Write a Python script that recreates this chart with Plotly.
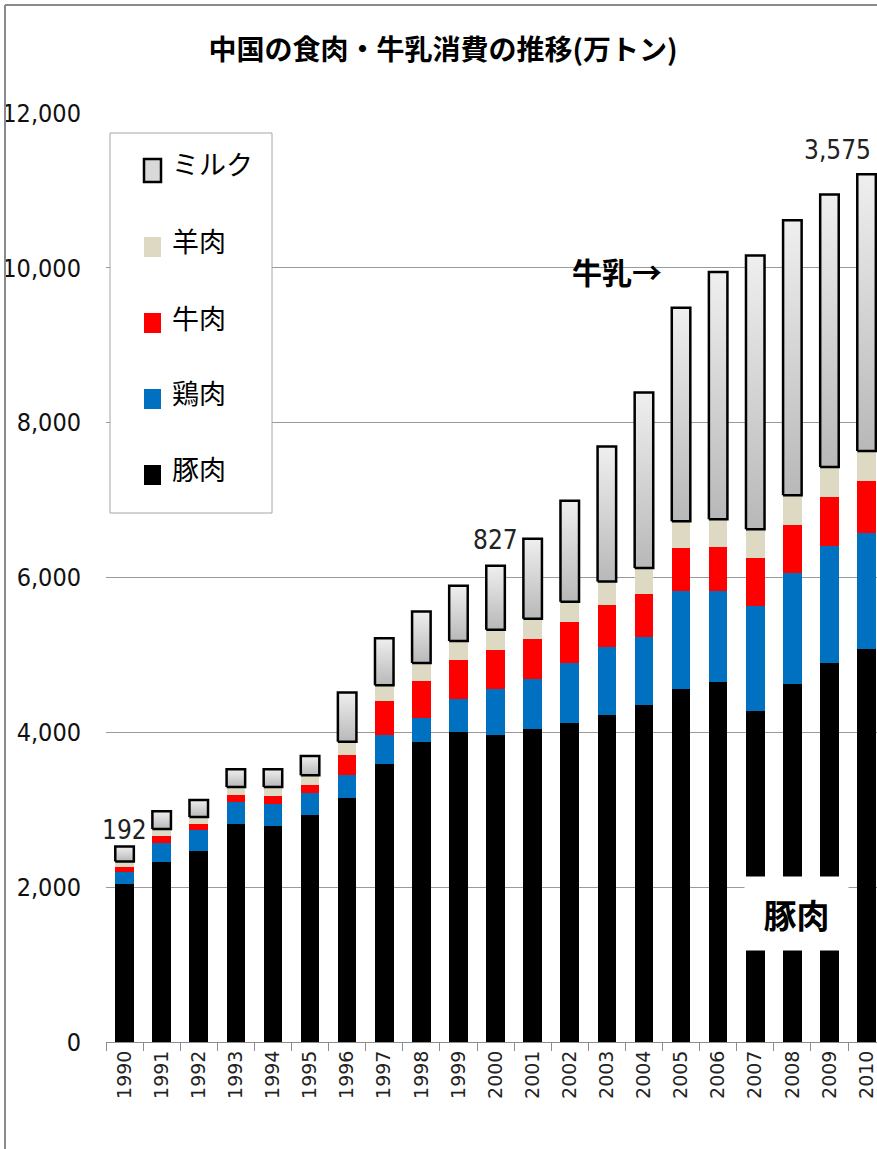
import plotly.graph_objects as go

# 中国の食肉・牛乳消費 (万トン), 1990-2010
years = ["1990", "1991", "1992", "1993", "1994", "1995", "1996", "1997", "1998", "1999",
         "2000", "2001", "2002", "2003", "2004", "2005", "2006", "2007", "2008", "2009", "2010"]
pork = [2040, 2325, 2467, 2816, 2786, 2928, 3152, 3596, 3881, 4006,
        3963, 4045, 4123, 4230, 4347, 4554, 4649, 4282, 4618, 4890, 5080]
chicken = [159, 241, 267, 289, 284, 289, 298, 367, 306, 431,
           591, 649, 776, 876, 888, 1267, 1172, 1350, 1445, 1518, 1501]
beef = [65, 90, 82, 90, 112, 108, 259, 448, 475, 496,
        504, 506, 528, 538, 557, 557, 574, 621, 616, 638, 660]
mutton = [69, 95, 91, 100, 113, 120, 168, 198, 232, 246,
          268, 266, 261, 303, 331, 349, 358, 371, 384, 380, 392]
milk = [192, 231, 218, 227, 227, 249, 637, 607, 668, 714,
        827, 1034, 1303, 1744, 2267, 2759, 3192, 3534, 3552, 3521, 3575]
labelled_years = ["1990", "2000", "2010"]
y_ticks = [0, 2000, 4000, 6000, 8000, 10000, 12000]

meat_series = [
    ("豚肉", pork, "#000000"),
    ("鶏肉", chicken, "#0070C0"),
    ("牛肉", beef, "#FF0000"),
    ("羊肉", mutton, "#DDD9C3"),
]

BAR_W = 0.5
idx = list(range(len(years)))
meat_total = [p + c + b + m for p, c, b, m in zip(pork, chicken, beef, mutton)]

fig = go.Figure()
for name, vals, color in meat_series:
    fig.add_trace(go.Bar(
        x=idx, y=vals, name=name, width=BAR_W,
        marker=dict(color=color, line=dict(width=0)),
        showlegend=False,
    ))

# milk segments: outlined boxes with a vertical grey gradient, stacked on the meat total
for i, (b, m) in enumerate(zip(meat_total, milk)):
    x0, x1 = i - BAR_W / 2, i + BAR_W / 2
    fig.add_trace(go.Scatter(
        x=[x0, x1, x1, x0, x0], y=[b, b, b + m, b + m, b],
        mode="lines", fill="toself",
        fillgradient=dict(type="vertical", colorscale=[[0, "#b8b8b8"], [1, "#efefef"]]),
        line=dict(color="#000000", width=2.5),
        name="ミルク", showlegend=False, hoverinfo="skip",
    ))

# value labels for selected milk segments
label_style = {"1990": dict(yshift=0, xshift=0, xanchor="center"),
               "2000": dict(yshift=9, xshift=0, xanchor="center"),
               "2010": dict(yshift=7, xshift=6, xanchor="right")}
NUM_FONT = "Liberation Sans Narrow, DejaVu Sans Condensed, Arial Narrow, sans-serif"
for yr in labelled_years:
    i = years.index(yr)
    st = label_style[yr]
    fig.add_annotation(
        x=i, y=meat_total[i] + milk[i], text=f"{milk[i]:,}",
        showarrow=False, yanchor="bottom", xanchor=st["xanchor"],
        xshift=st["xshift"], yshift=st["yshift"],
        font=dict(family=NUM_FONT, size=26, color="#222222"),
    )

JP = "Noto Sans CJK JP, sans-serif"

# callouts
fig.add_annotation(x=13.27, y=9960, text="<b>牛乳→</b>", showarrow=False,
                   font=dict(family=JP, size=30, color="#000000"))
fig.add_annotation(x=18.1, y=1656, text="<b>豚肉</b>", showarrow=False,
                   width=101, height=71, bgcolor="#ffffff",
                   font=dict(family=JP, size=33, color="#000000"))

# plot-area geometry in pixels, used to place the hand-built legend and frame
L, R, T, B = 106, 877, 113, 1042
def px(x):
    return (x - L) / (R - L)
def py(y):
    return (B - y) / (B - T)

shapes = []
# outer chart frame (left and top edges)
shapes.append(dict(type="line", xref="paper", yref="paper", x0=px(5), x1=px(5),
                   y0=py(5), y1=py(1149), line=dict(color="#8a8a8a", width=2)))
shapes.append(dict(type="line", xref="paper", yref="paper", x0=px(5), x1=px(877),
                   y0=py(5), y1=py(5), line=dict(color="#8a8a8a", width=2)))
# legend box
shapes.append(dict(type="rect", xref="paper", yref="paper", x0=px(110), x1=px(272),
                   y0=py(513), y1=py(133), fillcolor="#ffffff",
                   line=dict(color="#a6a6a6", width=1), layer="above"))

legend_items = [
    ("ミルク", "#d9d9d9", (159, 182), 164, True),
    ("羊肉", "#DDD9C3", (237, 257), 240, False),
    ("牛肉", "#FF0000", (313, 333), 317, False),
    ("鶏肉", "#0070C0", (389, 409), 392, False),
    ("豚肉", "#000000", (465, 485), 468, False),
]
for text, color, (s0, s1), ty, outlined in legend_items:
    shapes.append(dict(
        type="rect", xref="paper", yref="paper",
        x0=px(144), x1=px(161), y0=py(s1), y1=py(s0),
        fillcolor=color, layer="above",
        line=dict(color="#000000" if outlined else color, width=2.5 if outlined else 0),
    ))
    fig.add_annotation(xref="paper", yref="paper", x=px(170), y=py(ty), text=text,
                       showarrow=False, xanchor="left", yanchor="middle",
                       font=dict(family=JP, size=27, color="#000000"))

fig.update_layout(
    width=877, height=1149,
    margin=dict(l=L, r=877 - R, t=T, b=1149 - B, pad=0),
    paper_bgcolor="#ffffff", plot_bgcolor="#ffffff",
    barmode="stack",
    shapes=shapes,
    title=dict(text="<b>中国の食肉・牛乳消費の推移(万トン)</b>",
               x=443 / 877, xref="container", xanchor="center",
               y=1 - 50 / 1149, yref="container", yanchor="middle",
               font=dict(family=JP, size=28, color="#000000")),
    xaxis=dict(
        range=[-0.5, (R - L) / 37.1 - 0.5],
        tickmode="array", tickvals=idx, ticktext=years, tickangle=-90,
        ticks="", showgrid=False, zeroline=False,
        showline=True, linecolor="#8c8c8c", linewidth=1,
        minor=dict(tickmode="array", tickvals=[i - 0.5 for i in range(len(years) + 1)],
                   ticks="outside", ticklen=8, tickcolor="#8c8c8c", tickwidth=1,
                   showgrid=False),
        tickfont=dict(family="DejaVu Sans, Verdana, sans-serif", size=19, color="#222222"),
        fixedrange=True,
    ),
    yaxis=dict(
        range=[0, 12000], tickmode="array", tickvals=y_ticks, tickformat=",",
        showgrid=True, gridcolor="#9a9a9a", gridwidth=1, zeroline=False,
        showline=False, ticks="", ticklabelstandoff=24,
        tickfont=dict(family=NUM_FONT, size=25, color="#111111"),
        fixedrange=True,
    ),
    showlegend=False,
)

fig.write_html("out.html")
